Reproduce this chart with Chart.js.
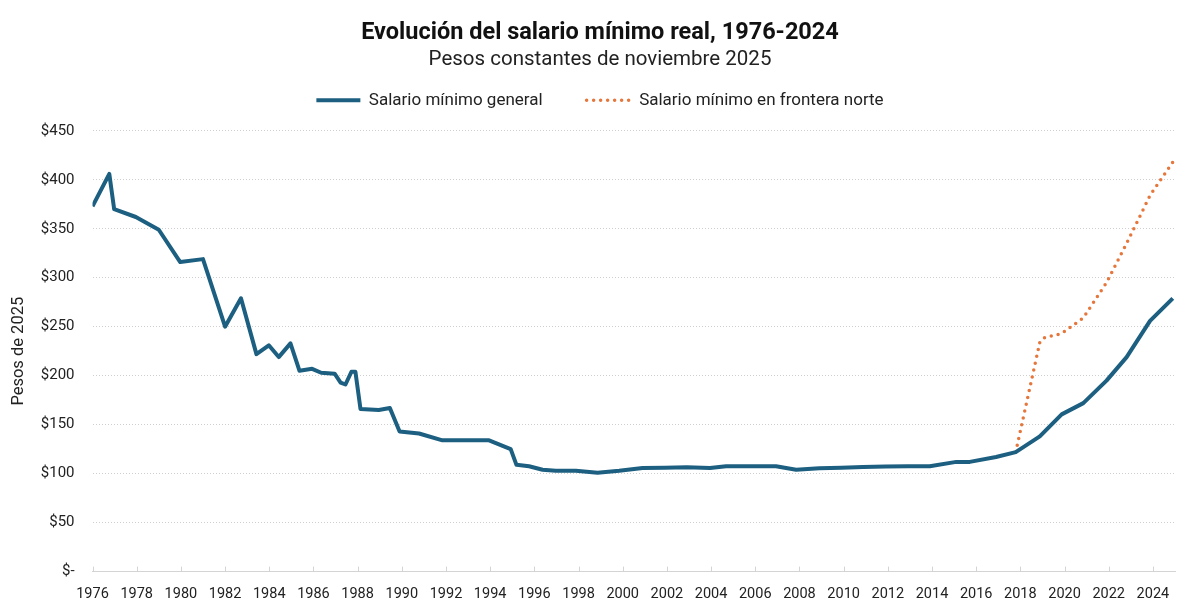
<!DOCTYPE html>
<html lang="es">
<head>
<meta charset="utf-8">
<script src="https://cdn.jsdelivr.net/npm/chart.js@4/dist/chart.umd.min.js"></script>
<style>
  html, body { margin: 0; padding: 0; background: #fff; }
</style>
</head>
<body>
<canvas id="chart" width="1200" height="604"></canvas>
<script>
// Salario mínimo general (posición en el año, pesos de 2025)
const generalYears = [1976.0, 1976.76, 1976.98, 1977.96, 1979.0, 1979.97, 1981.0, 1982.0, 1982.72, 1983.42,
  1983.98, 1984.43, 1984.96, 1985.37, 1985.94, 1986.35, 1986.96, 1987.23, 1987.45, 1987.72,
  1987.9, 1988.13, 1988.96, 1989.46, 1989.9, 1990.78, 1991.84, 1992.9, 1993.95, 1994.93,
  1995.19, 1995.76, 1996.37, 1996.97, 1997.88, 1998.86, 1999.84, 2000.9, 2001.9, 2002.9,
  2003.95, 2004.68, 2005.9, 2006.94, 2007.85, 2008.9, 2009.9, 2010.87, 2011.9, 2012.9,
  2013.9, 2015.1, 2015.71, 2016.9, 2017.79, 2018.88, 2019.87, 2020.85, 2021.9, 2022.81,
  2023.87, 2024.9];
const generalValues = [373, 406, 370, 362, 349, 316, 319, 250, 279, 222,
  231, 219, 233, 205, 207, 203, 202, 193, 191, 204,
  204, 166, 165, 167, 143, 141, 134, 134, 134, 125,
  109, 107.5, 104, 103, 103, 101, 103, 105.7, 106, 106.5,
  105.7, 107.5, 107.5, 107.5, 104, 105.5, 106, 106.8, 107.2, 107.5,
  107.5, 112, 112, 117, 122, 138, 160.5, 172, 195, 219,
  256, 279];

// Salario mínimo en frontera norte
const borderYears = [2017.79, 2018.88, 2019.1, 2019.87, 2020.85, 2021.9, 2022.81, 2023.87, 2024.9];
const borderValues = [122, 234, 239, 243, 259, 295, 335, 384, 418];

const seriesNames = ['Salario mínimo general', 'Salario mínimo en frontera norte'];
const yTickValues = [0, 50, 100, 150, 200, 250, 300, 350, 400, 450];

const toPoints = (xs, ys) => xs.map((x, i) => ({ x: x, y: ys[i] }));

// small tick marks on the x axis pointing up into the plot
const innerTicks = {
  id: 'innerTicks',
  beforeDatasetsDraw(chart) {
    const x = chart.scales.x;
    const bottom = chart.chartArea.bottom;
    const ctx = chart.ctx;
    ctx.save();
    ctx.strokeStyle = '#d4d4d4';
    ctx.lineWidth = 1;
    x.ticks.forEach(t => {
      const px = Math.round(x.getPixelForValue(t.value)) + 0.5;
      ctx.beginPath();
      ctx.moveTo(px, bottom);
      ctx.lineTo(px, bottom - 5);
      ctx.stroke();
    });
    ctx.restore();
  }
};

// wide gap between legend items, but keep the legend block short
const legendHeight = {
  id: 'legendHeight',
  beforeInit(chart) {
    const fit = chart.legend.fit;
    chart.legend.fit = function () {
      fit.call(this);
      this.height = 83;
    };
  }
};

new Chart(document.getElementById('chart'), {
  type: 'line',
  data: {
    datasets: [{
      label: seriesNames[0],
      data: toPoints(generalYears, generalValues),
      borderColor: '#1c5f80',
      backgroundColor: '#1c5f80',
      borderWidth: 4,
      pointRadius: 0,
      tension: 0,
      borderJoinStyle: 'round'
    }, {
      label: seriesNames[1],
      data: toPoints(borderYears, borderValues),
      borderColor: '#e6773c',
      backgroundColor: '#e6773c',
      borderWidth: 3.5,
      borderDash: [0, 7],
      borderCapStyle: 'round',
      pointRadius: 0,
      tension: 0
    }]
  },
  options: {
    responsive: false,
    animation: false,
    layout: { padding: { left: 12, right: 12, bottom: -5 } },
    plugins: {
      title: {
        display: true,
        text: 'Evolución del salario mínimo real, 1976-2024',
        color: '#111',
        font: { family: 'Roboto', size: 23.5, weight: 'bold' },
        padding: { top: 19, bottom: 0 }
      },
      subtitle: {
        display: true,
        text: 'Pesos constantes de noviembre 2025',
        color: '#222',
        font: { family: 'Roboto', size: 20.5 },
        padding: { bottom: -24 }
      },
      legend: {
        labels: {
          usePointStyle: true,
          pointStyle: 'line',
          pointStyleWidth: 44,
          boxWidth: 44,
          boxHeight: 14,
          padding: 44,
          color: '#222',
          font: { family: 'Roboto', size: 17 },
          generateLabels: chart => chart.data.datasets.map((ds, i) => ({
            text: ds.label,
            fillStyle: ds.borderColor,
            strokeStyle: ds.borderColor,
            lineWidth: ds.borderWidth,
            lineDash: ds.borderDash || [],
            lineCap: ds.borderCapStyle || 'butt',
            pointStyle: 'line',
            fontColor: '#222',
            hidden: false,
            datasetIndex: i
          }))
        }
      },
      tooltip: { enabled: false }
    },
    scales: {
      x: {
        type: 'linear',
        min: 1976,
        max: 2025,
        grid: { display: false },
        border: { display: true, color: '#d4d4d4', width: 1 },
        ticks: {
          stepSize: 2,
          includeBounds: false,
          maxRotation: 0,
          autoSkip: false,
          padding: 6,
          color: '#222',
          font: { family: 'Roboto', size: 14.5 },
          callback: v => String(v)
        }
      },
      y: {
        min: 0,
        max: 450,
        afterBuildTicks: axis => { axis.ticks = yTickValues.map(v => ({ value: v })); },
        grid: {
          color: '#cfcfcf',
          lineWidth: 1,
          drawTicks: false
        },
        border: { display: false, dash: [1, 2] },
        ticks: {
          padding: 18,
          color: '#222',
          font: { family: 'Roboto', size: 15 },
          callback: v => v === 0 ? '$-' : '$' + v
        },
        title: {
          display: true,
          text: 'Pesos de 2025',
          color: '#222',
          font: { family: 'Roboto', size: 16.5 },
          padding: { top: -3, bottom: -6 }
        }
      },
      // empty right margin so the titles and legend stay centred on the page
      yRight: {
        position: 'right',
        display: true,
        grid: { display: false },
        border: { display: false },
        ticks: { display: false },
        afterFit: s => { s.width = 13; }
      }
    }
  },
  plugins: [innerTicks, legendHeight]
});
</script>
</body>
</html>
